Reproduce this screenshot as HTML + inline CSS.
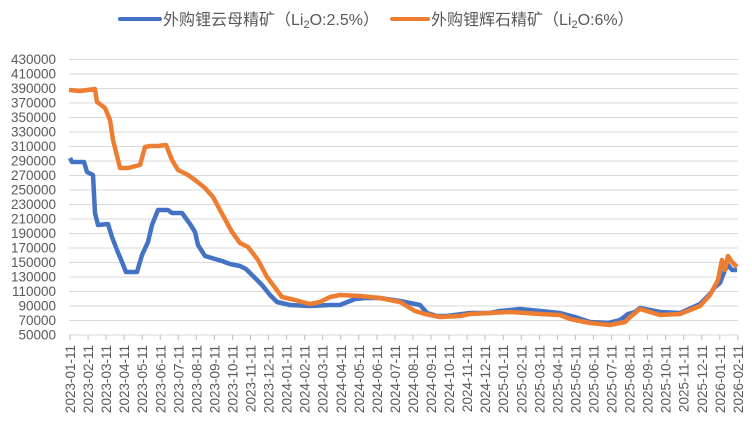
<!DOCTYPE html><html><head><meta charset="utf-8"><style>
body{margin:0;background:#fff;width:752px;height:429px;overflow:hidden;font-family:"Liberation Sans","Noto Sans CJK SC",sans-serif}
</style></head><body>
<svg width="752" height="429" xmlns="http://www.w3.org/2000/svg" font-family="Liberation Sans, Noto Sans CJK SC, sans-serif">
<g stroke="#d9d9d9" stroke-width="1">
<line x1="69" x2="738" y1="59.5" y2="59.5"/><line x1="69" x2="738" y1="74" y2="74"/><line x1="69" x2="738" y1="88.5" y2="88.5"/><line x1="69" x2="738" y1="103" y2="103"/><line x1="69" x2="738" y1="117.5" y2="117.5"/><line x1="69" x2="738" y1="132" y2="132"/><line x1="69" x2="738" y1="146.5" y2="146.5"/><line x1="69" x2="738" y1="161" y2="161"/><line x1="69" x2="738" y1="175.5" y2="175.5"/><line x1="69" x2="738" y1="190" y2="190"/><line x1="69" x2="738" y1="204.5" y2="204.5"/><line x1="69" x2="738" y1="219" y2="219"/><line x1="69" x2="738" y1="233.5" y2="233.5"/><line x1="69" x2="738" y1="248" y2="248"/><line x1="69" x2="738" y1="262.5" y2="262.5"/><line x1="69" x2="738" y1="277" y2="277"/><line x1="69" x2="738" y1="291.5" y2="291.5"/><line x1="69" x2="738" y1="306" y2="306"/><line x1="69" x2="738" y1="320.5" y2="320.5"/><line x1="69" x2="738" y1="335" y2="335"/>
</g>
<g id="ticks" stroke="#bfbfbf"></g>
<g font-size="13.5" fill="#595959" text-anchor="end">
<text x="56" y="64">430000</text><text x="56" y="78.5">410000</text><text x="56" y="93">390000</text><text x="56" y="107.5">370000</text><text x="56" y="122">350000</text><text x="56" y="136.5">330000</text><text x="56" y="151">310000</text><text x="56" y="165.5">290000</text><text x="56" y="180">270000</text><text x="56" y="194.5">250000</text><text x="56" y="209">230000</text><text x="56" y="223.5">210000</text><text x="56" y="238">190000</text><text x="56" y="252.5">170000</text><text x="56" y="267">150000</text><text x="56" y="281.5">130000</text><text x="56" y="296">110000</text><text x="56" y="310.5">90000</text><text x="56" y="325">70000</text><text x="56" y="339.5">50000</text>
</g>
<g id="xl" font-size="13.5" fill="#595959" text-anchor="end"></g>
<polyline fill="none" stroke="#4472c4" stroke-width="4.5" stroke-linejoin="round" points="70,158 72,162 84,162 87,172 93,175 95,213 98,225 108,224 112,237 117,250 122,262 126,272 137,272 142,255 148,242 152,225 158,210 168,210 172,213 182,213 190,224 195,232 198,245 205,256 215,259 222,261 230,264 240,266 246,269 253,276 262,285 270,295 277,302 290,305 310,306 330,305 340,305 350,301 355,299 365,298 380,298 400,301 420,305 427,313 437,316 447,316 470,313 490,313 500,311 520,309 540,311 560,313 575,317 590,322 608,323 620,320 628,314 635,312 640,308 660,312 680,313 700,304 710,294 715,287 720,283 725,270 728,265 732,270 737,270"/>
<polyline fill="none" stroke="#ed7d31" stroke-width="4.5" stroke-linejoin="round" points="69,90 80,91 95,89 97,102 105,108 110,120 113,140 120,168 128,168 140,165 145,147 150,146 158,146 166,145 172,160 178,170 188,175 195,180 205,188 213,197 220,210 232,232 240,243 248,247 258,260 267,277 282,297 295,300 310,304 320,302 330,297 340,295 360,296 380,298 400,302 415,311 425,314 440,317 460,316 470,314 490,313 510,312 540,314 560,315 570,319 590,323 610,325 625,322 630,317 640,309 660,315 680,314 700,306 710,295 718,280 722,260 725,270 728,256 732,262 737,267"/>
<line x1="120" x2="160" y1="19" y2="19" stroke="#4472c4" stroke-width="4" stroke-linecap="round"/>
<text x="163" y="25" font-size="16" fill="#595959">外购锂云母精矿（Li<tspan font-size="11" dy="3">2</tspan><tspan dy="-3">O:2.5%）</tspan></text>
<line x1="392" x2="428" y1="19" y2="19" stroke="#ed7d31" stroke-width="4" stroke-linecap="round"/>
<text x="431" y="25" font-size="16" fill="#595959">外购锂辉石精矿（Li<tspan font-size="11" dy="3">2</tspan><tspan dy="-3">O:6%）</tspan></text>
<script>
var t=document.getElementById('ticks'),xl=document.getElementById('xl'),ns='http://www.w3.org/2000/svg';
var y=2023,m=1;
for(var i=0;i<38;i++){var x=70+i*18.05;
var l=document.createElementNS(ns,'line');l.setAttribute('x1',x);l.setAttribute('x2',x);l.setAttribute('y1',335);l.setAttribute('y2',340);t.appendChild(l);
var tx=document.createElementNS(ns,'text');tx.setAttribute('transform','translate('+(x+5)+',345) rotate(-90)');tx.textContent=y+'-'+(m<10?'0':'')+m+'-11';xl.appendChild(tx);
m++;if(m>12){m=1;y++;}}
</script>
</svg>
</body></html>
